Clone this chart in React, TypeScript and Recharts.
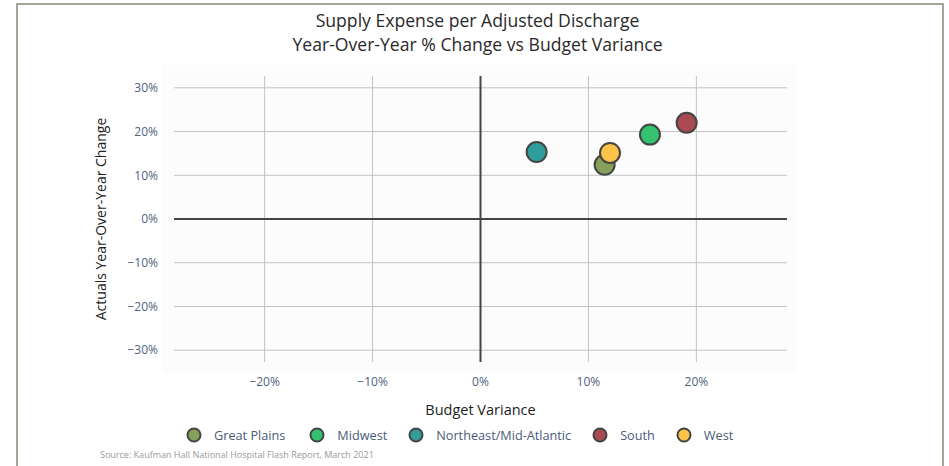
import {
  CartesianGrid,
  ReferenceLine,
  Scatter,
  ScatterChart,
  XAxis,
  YAxis,
  Label,
} from "recharts";

const regions = ["Great Plains", "Midwest", "Northeast/Mid-Atlantic", "South", "West"];
const budgetVariance = [11.5, 15.7, 5.2, 19.1, 12.0];
const yoyChange = [12.4, 19.3, 15.3, 22.0, 15.1];
const colors = ["#86a05c", "#33c270", "#2f9e9b", "#a94a52", "#fbc348"];

const xTicks = [-20, -10, 0, 10, 20];
const yTicks = [-30, -20, -10, 0, 10, 20, 30];

const W = 949;
const H = 466;
const font = "'Open Sans', sans-serif";
const tickColor = "#4f5f80";
const frameColor = "#a4a498";

const pct = (v: number) => (v < 0 ? `\u2212${Math.abs(v)}%` : `${v}%`);

export default function App() {
  return (
    <div
      style={{
        position: "relative",
        width: W,
        height: H,
        background: "#fff",
        fontFamily: font,
        overflow: "hidden",
      }}
    >
      <style>{`body { margin: 0; }`}</style>
      {/* frame */}
      <div style={{ position: "absolute", left: 16, top: 3, width: 928, height: 2, background: frameColor }} />
      <div style={{ position: "absolute", left: 16, top: 3, width: 2, height: H, background: frameColor }} />
      <div style={{ position: "absolute", left: 942, top: 3, width: 2, height: H, background: frameColor }} />
      {/* plot background */}
      <div
        style={{
          position: "absolute",
          left: 162,
          top: 65,
          width: 634,
          height: 308,
          background: "#fcfcfc",
        }}
      />
      <div
        style={{
          position: "absolute",
          top: 8,
          left: 0,
          width: 955,
          textAlign: "center",
          fontSize: 17.6,
          lineHeight: "24px",
          color: "#2a2a2a",
        }}
      >
        Supply Expense per Adjusted Discharge
        <br />
        Year-Over-Year % Change vs Budget Variance
      </div>
      <div style={{ position: "absolute", left: 0, top: 0 }}>
        <ScatterChart
          width={W}
          height={H}
          margin={{ top: 76, right: 162, bottom: 64, left: 80 }}
        >
          <CartesianGrid
            stroke="#c2c2c2"
            strokeWidth={1}
            horizontalValues={yTicks}
            verticalValues={xTicks}
          />
          <XAxis
            type="number"
            dataKey="x"
            domain={[-28.4, 28.4]}
            ticks={xTicks}
            allowDataOverflow
            axisLine={false}
            tickLine={false}
            tickSize={0}
            tickMargin={15}
            height={40}
            tickFormatter={pct}
            tick={{ fill: tickColor, fontSize: 12, fontFamily: font }}
          >
            <Label
              value="Budget Variance"
              position="bottom"
              offset={3}
              style={{ fill: "#222", fontSize: 14.5, fontFamily: font }}
            />
          </XAxis>
          <YAxis
            type="number"
            dataKey="y"
            domain={[-32.7, 32.7]}
            ticks={yTicks}
            allowDataOverflow
            axisLine={false}
            tickLine={false}
            tickSize={0}
            tickMargin={16}
            width={94}
            tickFormatter={pct}
            tick={{ fill: tickColor, fontSize: 12, fontFamily: font }}
          >
            <Label
              value="Actuals Year-Over-Year Change"
              angle={-90}
              position="insideLeft"
              offset={21}
              style={{ fill: "#222", fontSize: 14, fontFamily: font, textAnchor: "middle" }}
            />
          </YAxis>
          <ReferenceLine x={0} stroke="#444" strokeWidth={2} />
          <ReferenceLine y={0} stroke="#444" strokeWidth={2} />
          {regions.map((name, i) => (
            <Scatter
              key={name}
              name={name}
              data={[{ x: budgetVariance[i], y: yoyChange[i] }]}
              fill={colors[i]}
              stroke="#444"
              strokeWidth={2}
              isAnimationActive={false}
              shape={(p: any) => (
                <circle cx={p.cx} cy={p.cy} r={10} fill={colors[i]} stroke="#444" strokeWidth={2} />
              )}
            />
          ))}
        </ScatterChart>
      </div>
      {/* legend */}
      <div
        style={{
          position: "absolute",
          top: 426,
          left: 186,
          display: "flex",
          alignItems: "center",
          fontSize: 12.7,
          color: "#4a5a7a",
        }}
      >
        {regions.map((name, i) => (
          <div key={name} style={{ display: "flex", alignItems: "center", marginRight: i === 0 ? 24 : 21 }}>
            <svg width={16} height={16} style={{ marginRight: 12 }}>
              <circle cx={8} cy={8} r={6.5} fill={colors[i]} stroke="#444" strokeWidth={2} />
            </svg>
            <span>{name}</span>
          </div>
        ))}
      </div>
      <div
        style={{
          position: "absolute",
          left: 100,
          top: 448,
          fontSize: 9,
          color: "#9a9a9a",
        }}
      >
        Source: Kaufman Hall National Hospital Flash Report, March 2021
      </div>
    </div>
  );
}
